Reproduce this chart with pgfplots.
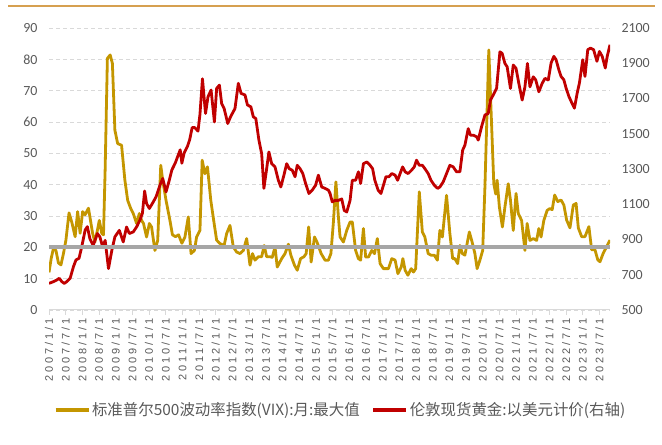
\documentclass[border=0pt]{standalone}
\usepackage{fontspec}
\setmainfont{Liberation Sans}
\newfontfamily\cjk{Noto Sans CJK SC}
\newfontfamily\xtickfont[LetterSpace=26]{Liberation Sans}
\newfontfamily\ytickfont{Carlito}
\usepackage{pgfplots}
\pgfplotsset{compat=1.18}
\usepackage{pgfplotstable}
\definecolor{vixc}{RGB}{196,150,0}
\definecolor{goldc}{RGB}{192,0,0}
\definecolor{txt}{RGB}{89,89,89}
\definecolor{gridc}{RGB}{217,217,217}
\definecolor{refc}{RGB}{166,166,166}
\definecolor{topc}{RGB}{214,160,80}

% x = months since 2007/1
\pgfplotstableread{
m v
0 12
0.8 16.5
1.6 19.7
2.5 19
3.4 15
4.3 14.4
5.2 18
6.1 22.4
7.2 31
8.2 28
9.4 23.4
10.3 31.4
11.2 24.5
12.1 31.4
13 30.4
14.2 32.5
15.7 24.4
16.5 21.7
17.4 25.4
18.1 28.6
19 24.4
19.6 24
20.2 45
21 80.3
22 81.4
22.8 78.7
23.7 57.4
24.7 53.1
26.1 52.6
27.3 41.4
28.3 35
29.4 32.4
30.3 30.8
31.5 27.6
32.5 30.8
33.3 28.6
34 27.6
35.1 23.3
36.1 27.6
36.9 26.5
38.1 19
39.1 22.2
40.2 46.2
40.9 41.4
42.1 35
43.5 28.6
44.4 24
45.5 23.4
46.6 24
47.8 21.3
48.9 23.3
50.1 29.7
51.1 18
52.3 19
53.1 23.3
54.3 25.4
55.1 47.8
56.1 43.5
57 45.7
58.2 35
59.4 27.6
60.3 22.3
61.5 21.2
63 20.6
63.9 24.4
65.1 27
66.3 20.1
67.5 18.5
68.7 18
69.9 19
71.1 22.8
72.3 14.3
73.2 18
74.1 15.9
75.3 17
76.5 17
77.4 20.6
78.3 17
79.5 17
80.3 16.8
81.3 20.1
82.1 13.7
83.7 16.4
84.9 18
86.1 21
87 17.5
88.3 14.3
89.3 12.7
90.5 16.4
91.7 17
92.5 18
93.4 26.5
94.3 15.3
95.5 23.3
96.4 21.7
97.9 18
99.3 15.9
100.5 15.9
101.4 18
102.3 28
103.2 40.9
104.1 29.7
104.7 23.3
105.9 21.7
107.1 25.4
108.3 28.1
109.1 28.1
110.3 19
111.3 16.4
112.1 15.9
113.1 26
113.9 16.9
114.9 16.9
116.1 19
117.1 18
118.1 22.8
119.1 14.8
120.3 13.2
122.1 13.2
123.3 16.4
124.5 15.9
125.5 11.6
126.7 13.7
127.3 16.4
128.1 12.7
129.1 11.1
130.3 13.2
131.1 12.1
131.9 13.2
133.2 37.7
134.3 24.9
135.2 23.3
136.4 18
137.4 17.5
138.6 17.5
139.7 15.9
140.6 25.4
141.5 23.3
143 36.6
144.2 24.4
145.2 16.4
146 16.4
147 14.8
147.8 20.6
148.7 18
149.6 17.5
151.2 24.9
152.2 21.7
153.2 18
154 13.2
155 15.9
156 19
156.8 39
158.2 83
160 40.3
160.7 37
161.2 41.4
162 32.9
163.1 26.5
164 32.9
165.2 40.3
166 35
167 25.4
168 37.2
168.8 30.8
170 28.6
171.2 19
172 27.6
173 22.2
174.2 22.8
175.4 22.2
176.2 26
177 23.3
178 28.6
179.2 31.8
180.2 32.4
181 32
181.9 36.7
183 34.6
184.2 35.1
185.2 33.5
186.2 28.7
187.4 26.2
188.6 33.5
189.6 34
190.4 26.2
191.6 23.4
192.8 23.4
194.2 26.6
195.2 19.2
196.4 19.2
197.4 16
198.2 15.4
199.4 18.2
200.6 20.2
201.8 22.3
}\vixdata

\pgfplotstableread{
m g
0 651
1.6 661
2.8 670
3.7 680
4.6 661
5.5 651
6.4 661
7.6 680
8.8 746
9.7 784
10.8 793
11.8 860
13 954
13.8 973
14.7 905
15.9 867
17.4 934
18.3 915
19.3 858
20.2 895
21.4 735
22.6 838
23.7 915
25.3 952
26.7 886
27.9 971
28.9 934
30.3 943
31.5 971
32.7 1009
33.6 1049
34.4 1175
35.1 1104
36.1 1076
37.5 1113
38.5 1142
39.9 1208
40.9 1246
42.1 1170
43.3 1238
44.2 1295
45.4 1333
46.3 1371
47.2 1409
47.8 1333
48.6 1390
49.8 1428
50.6 1466
51.5 1535
52.4 1535
53.6 1515
54.3 1610
55.2 1812
56.3 1615
57.2 1710
58.3 1748
59.5 1567
60.3 1757
61.3 1776
62.1 1672
63 1643
64.3 1558
65.3 1596
66.9 1643
68.1 1786
69.1 1729
70.5 1720
71.4 1663
72.6 1653
73.5 1596
74.4 1586
75.5 1464
76.5 1387
77.3 1190
78.3 1302
79.1 1397
80.1 1330
81.3 1312
82.5 1236
83.4 1198
84.5 1265
85.5 1330
86.4 1302
87.5 1293
88.5 1256
89.3 1321
90.3 1302
91.3 1274
92.3 1218
93.5 1161
94.7 1180
95.9 1208
96.9 1265
98.1 1198
99.3 1190
100.5 1180
101.1 1161
101.9 1113
102.9 1122
104.1 1122
105.3 1130
106.2 1065
107.1 1056
108.3 1122
109.1 1236
110.3 1236
111.3 1284
112.1 1218
113.1 1330
114.3 1340
115.5 1321
116.4 1302
117.2 1236
118.4 1180
119.4 1161
120.3 1208
121.2 1256
122.3 1256
123.3 1274
124.5 1265
125.4 1236
126.3 1274
127.2 1312
128.1 1284
129.2 1274
130.4 1293
131.4 1312
132.2 1350
133.2 1321
134.3 1321
135.2 1302
136.4 1274
137.4 1236
138.6 1208
139.8 1190
140.6 1198
141.8 1227
143 1274
144.2 1321
145.4 1312
146.6 1284
147.8 1284
148.8 1407
149.6 1435
150.8 1529
151.6 1492
152.6 1492
153.8 1483
154.4 1464
155.6 1540
156.8 1606
158 1615
158.8 1691
159.8 1720
161 1757
162.2 1965
163 1956
164 1899
164.8 1880
166 1757
167 1890
168 1871
169 1786
170.2 1691
171.2 1766
172.1 1899
173 1766
174.2 1823
175.1 1805
176.2 1738
177.4 1786
178.4 1814
179.6 1805
180.6 1901
181.6 1939
182.4 1920
183.4 1863
184.2 1825
185.2 1806
186 1759
187 1712
188.1 1674
189 1645
190 1731
190.8 1788
192 1920
192.8 1825
193.8 1977
194.8 1986
195.9 1977
197.1 1911
198 1967
199 1939
200.1 1873
200.8 1939
201.8 2005
}\golddata

\pgfplotsset{
  common/.style={
    at={(49bp,135bp)}, anchor=south west,
    scale only axis, width=561bp, height=282bp,
    xmin=0, xmax=201.8,
    /pgf/number format/assume math mode=true,
    /pgf/number format/1000 sep={},
    yticklabel style={font=\ytickfont\fontsize{14}{16}\selectfont, text=txt},
    ytick style={draw=none},
    y axis line style={draw=none},
  }
}

\begin{document}
\begin{tikzpicture}
\path[use as bounding box] (0,0) rectangle (662bp,445bp);
\draw[topc, line width=1.2bp] (8bp,439bp) -- (655bp,439bp);
\begin{axis}[common,
  ymin=0, ymax=90, ytick={0,10,...,90},
  axis x line*=bottom, axis y line*=left,
  x axis line style={draw=gridc, line width=1bp},
  xtick={0,6,...,198},
  xticklabels={2007/1/1,2007/7/1,2008/1/1,2008/7/1,2009/1/1,2009/7/1,2010/1/1,2010/7/1,2011/1/1,2011/7/1,2012/1/1,2012/7/1,2013/1/1,2013/7/1,2014/1/1,2014/7/1,2015/1/1,2015/7/1,2016/1/1,2016/7/1,2017/1/1,2017/7/1,2018/1/1,2018/7/1,2019/1/1,2019/7/1,2020/1/1,2020/7/1,2021/1/1,2021/7/1,2022/1/1,2022/7/1,2023/1/1,2023/7/1},
  xtick align=outside,
  xtick style={draw=gridc, line width=0.8bp},
  major tick length=5bp,
  xticklabel style={font=\xtickfont\fontsize{11}{12}\selectfont, text=txt, rotate=90, anchor=east},
  yticklabel style={xshift=-8bp},
  ymajorgrids,
  grid style={draw=gridc, dash pattern=on 4bp off 3bp, line width=0.8bp},
]
\addplot[vixc, line width=2.8bp, line join=round] table[x=m, y=v] {\vixdata};
\end{axis}
\begin{axis}[common,
  ymin=500, ymax=2100, ytick={500,700,...,2100},
  axis x line=none, axis y line*=right,
  yticklabel style={xshift=8bp},
  legend style={at={(0.519,-0.355)}, anchor=center, draw=none, fill=none,
    legend columns=2, font=\cjk\fontsize{15.5}{18}\selectfont, text=txt,
    /tikz/every even column/.append style={column sep=10bp},
    nodes={inner sep=1.5bp}},
  legend image code/.code={\draw[#1, line width=4bp] (0bp,0bp) -- (33bp,0bp);},
]
\addlegendimage{vixc, line width=4bp}
\addlegendentry{标准普尔500波动率指数(VIX):月:最大值}
\addplot[goldc, line width=2.8bp, line join=round] table[x=m, y=g] {\golddata};
\addlegendentry{伦敦现货黄金:以美元计价(右轴)}
% reference line at VIX = 20 (left axis), i.e. 500 + 20*1600/90 on the right axis
\addplot[refc, line width=4.2bp, forget plot] coordinates {(0,855.56) (201.8,855.56)};
\end{axis}
\end{tikzpicture}
\end{document}
